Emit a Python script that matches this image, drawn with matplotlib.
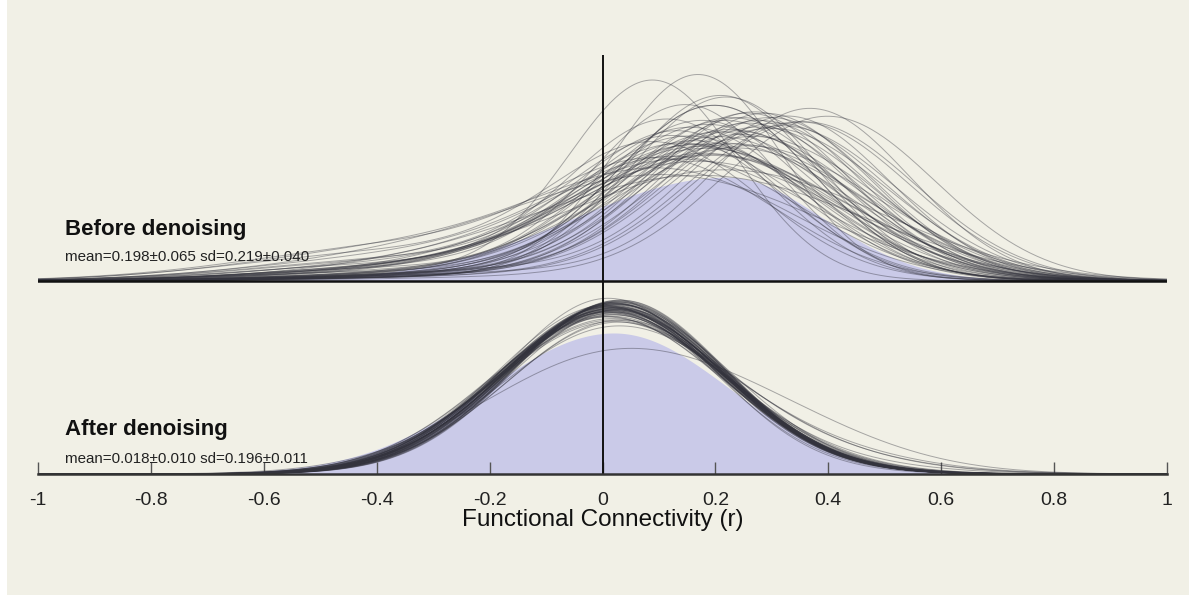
import math
import numpy as np
import matplotlib
matplotlib.use("Agg")
import matplotlib.pyplot as plt
from matplotlib.patches import Rectangle

plt.rcParams['font.family'] = ['Liberation Sans', 'DejaVu Sans']

# ---------------- data ----------------
tick_values = [-1, -0.8, -0.6, -0.4, -0.2, 0, 0.2, 0.4, 0.6, 0.8, 1]
tick_labels = ["-1", "-0.8", "-0.6", "-0.4", "-0.2", "0", "0.2", "0.4", "0.6", "0.8", "1"]
x_label = "Functional Connectivity (r)"

before_title = "Before denoising"
before_stats = "mean=0.198\u00b10.065 sd=0.219\u00b10.040"
after_title = "After denoising"
after_stats = "mean=0.018\u00b10.010 sd=0.196\u00b10.011"

# per-subject distributions before denoising: mode, spread, weight of long left tail
before_mode = [0.17, 0.09, 0.37, 0.15, 0.20, 0.22, 0.18, 0.12, 0.25, 0.30,
               0.14, 0.19, 0.21, 0.16, 0.28, 0.33, 0.10, 0.23, 0.26, 0.18,
               0.13, 0.20, 0.35, 0.24, 0.17, 0.27, 0.15, 0.22, 0.31, 0.19,
               0.11, 0.29, 0.21, 0.16, 0.24, 0.40, 0.18, 0.26, 0.14, 0.23,
               0.20, 0.32, 0.17, 0.25, 0.12, 0.28, 0.19, 0.22, 0.36, 0.15,
               0.21, 0.27, 0.18, 0.24, 0.30, 0.13, 0.20, 0.26, 0.23, 0.19]
before_sd = [0.150, 0.150, 0.175, 0.165, 0.175, 0.170, 0.185, 0.175, 0.190, 0.185,
             0.180, 0.195, 0.170, 0.190, 0.200, 0.180, 0.185, 0.205, 0.180, 0.210,
             0.190, 0.175, 0.195, 0.200, 0.215, 0.185, 0.205, 0.190, 0.195, 0.225,
             0.200, 0.185, 0.210, 0.200, 0.230, 0.190, 0.220, 0.195, 0.215, 0.190,
             0.240, 0.200, 0.205, 0.210, 0.225, 0.195, 0.230, 0.220, 0.195, 0.235,
             0.205, 0.215, 0.250, 0.225, 0.205, 0.260, 0.240, 0.230, 0.270, 0.280]
before_tail = [0.05, 0.08, 0.08, 0.12, 0.06, 0.04, 0.10, 0.15, 0.05, 0.08,
               0.20, 0.07, 0.03, 0.12, 0.06, 0.10, 0.25, 0.05, 0.08, 0.14,
               0.18, 0.06, 0.05, 0.09, 0.12, 0.04, 0.16, 0.07, 0.06, 0.10,
               0.30, 0.05, 0.08, 0.13, 0.07, 0.04, 0.11, 0.06, 0.22, 0.05,
               0.09, 0.05, 0.14, 0.06, 0.28, 0.04, 0.12, 0.08, 0.05, 0.15,
               0.07, 0.05, 0.10, 0.06, 0.04, 0.20, 0.08, 0.05, 0.10, 0.12]
before_tail_shift = -0.45
before_tail_sd = 0.28

# per-subject distributions after denoising: mode, spread, weight of right shoulder
after_mode = [0.010, 0.020, 0.015, 0.025, 0.005, 0.018, 0.030, 0.012, 0.022, 0.008,
              0.016, 0.028, 0.020, 0.014, 0.024, 0.010, 0.018, 0.032, 0.006, 0.020,
              0.026, 0.012, 0.016, 0.022, 0.018, 0.030, 0.014, 0.010, 0.024, 0.020,
              0.015, 0.028, 0.008, 0.018, 0.022, 0.012, 0.026, 0.016, 0.020, 0.034,
              0.010, 0.018, 0.024, 0.014, 0.020, 0.028, 0.016, 0.012, 0.022, 0.018,
              0.030, 0.015, 0.020, 0.010, 0.025, 0.018, 0.005, 0.022, 0.015, 0.020]
after_sd = [0.184, 0.190, 0.195, 0.188, 0.192, 0.198, 0.186, 0.194, 0.190, 0.200,
            0.196, 0.188, 0.193, 0.202, 0.190, 0.197, 0.191, 0.186, 0.205, 0.194,
            0.189, 0.199, 0.192, 0.196, 0.204, 0.187, 0.193, 0.198, 0.191, 0.195,
            0.200, 0.188, 0.206, 0.192, 0.197, 0.190, 0.194, 0.201, 0.189, 0.196,
            0.193, 0.208, 0.190, 0.199, 0.195, 0.187, 0.203, 0.192, 0.198, 0.210,
            0.191, 0.196, 0.212, 0.194, 0.200, 0.189, 0.225, 0.197, 0.205, 0.193]
after_tail = [0.00, 0.00, 0.00, 0.00, 0.00, 0.00, 0.00, 0.00, 0.00, 0.00,
              0.00, 0.00, 0.12, 0.00, 0.00, 0.00, 0.00, 0.00, 0.00, 0.00,
              0.00, 0.00, 0.00, 0.00, 0.10, 0.00, 0.00, 0.00, 0.00, 0.00,
              0.00, 0.00, 0.00, 0.00, 0.00, 0.16, 0.00, 0.00, 0.00, 0.00,
              0.00, 0.00, 0.00, 0.00, 0.00, 0.00, 0.00, 0.08, 0.00, 0.00,
              0.00, 0.00, 0.00, 0.00, 0.00, 0.00, 0.22, 0.00, 0.00, 0.00]
after_tail_shift = 0.30
after_tail_sd = 0.20

# shaded reference distributions: mode, left sd, right sd, peak height
before_fill = (0.22, 0.27, 0.17, 1.28)
after_fill = (0.02, 0.225, 0.205, 1.74)

# ---------------- layout / style ----------------
W, H, DPI = 1189, 598, 100
BG = '#f1f0e6'
FILL = '#cacae8'
CURVE = '#33333d'
TOP_OFFSET = 2.383          # vertical offset of the "before" panel baseline
Y_TOP = 5.17

x = np.linspace(-1, 1, 801)


def gauss(x, m, s):
    return np.exp(-0.5 * ((x - m) / s) ** 2) / (s * math.sqrt(2 * math.pi))


def split_normal(x, m, sl, sr, h):
    s = np.where(x < m, sl, sr)
    return h * np.exp(-0.5 * ((x - m) / s) ** 2)


fig = plt.figure(figsize=(W / DPI, H / DPI), dpi=DPI, facecolor='white')
fig.patches.append(Rectangle((7 / W, 3 / H), 1 - 7 / W, 1 - 3 / H,
                             transform=fig.transFigure, facecolor=BG,
                             edgecolor='none', zorder=-10))
ax = fig.add_axes([38 / W, 124 / H, (1167 - 38) / W, 419 / H])
ax.set_facecolor('none')
ax.set_xlim(-1, 1)
ax.set_ylim(0, Y_TOP)

# shaded areas
ax.fill_between(x, TOP_OFFSET, TOP_OFFSET + split_normal(x, *before_fill),
                color=FILL, lw=0, zorder=1)
ax.fill_between(x, 0, split_normal(x, *after_fill), color=FILL, lw=0, zorder=1)

# individual curves
for m, s, w in zip(before_mode, before_sd, before_tail):
    d = (1 - w) * gauss(x, m, s) + w * gauss(x, m + before_tail_shift, before_tail_sd)
    ax.plot(x, TOP_OFFSET + d, color=CURVE, lw=0.7, alpha=0.4, zorder=2)
for m, s, w in zip(after_mode, after_sd, after_tail):
    d = (1 - w) * gauss(x, m, s) + w * gauss(x, m + after_tail_shift, after_tail_sd)
    ax.plot(x, d, color=CURVE, lw=0.7, alpha=0.4, zorder=2)

# baselines and zero line
ax.axhline(TOP_OFFSET, color='#111111', lw=1.8, zorder=4)
ax.axvline(0, color='#111111', lw=1.4, zorder=4)

for sp in ['top', 'left', 'right']:
    ax.spines[sp].set_visible(False)
ax.spines['bottom'].set_color('#333333')
ax.spines['bottom'].set_linewidth(1.8)
ax.spines['bottom'].set_zorder(4)
ax.set_yticks([])
ax.set_xticks(tick_values)
ax.set_xticklabels(tick_labels)
ax.tick_params(axis='x', direction='in', length=9, width=1.0, color='#555555',
               pad=13, labelsize=14, labelcolor='#222222')
ax.set_xlabel(x_label, fontsize=17.5, color='#111111', labelpad=0)

# panel texts
tx = -0.953
ax.text(tx, 2.95, before_title, fontsize=16, fontweight='bold', va='baseline',
        color='#111111', zorder=5)
ax.text(tx, 2.63, before_stats, fontsize=10.9, va='baseline', color='#222222', zorder=5)
ax.text(tx, 0.48, after_title, fontsize=16, fontweight='bold', va='baseline',
        color='#111111', zorder=5)
ax.text(tx, 0.14, after_stats, fontsize=10.9, va='baseline', color='#222222', zorder=5)

fig.savefig('out.png', dpi=DPI, facecolor='white')
